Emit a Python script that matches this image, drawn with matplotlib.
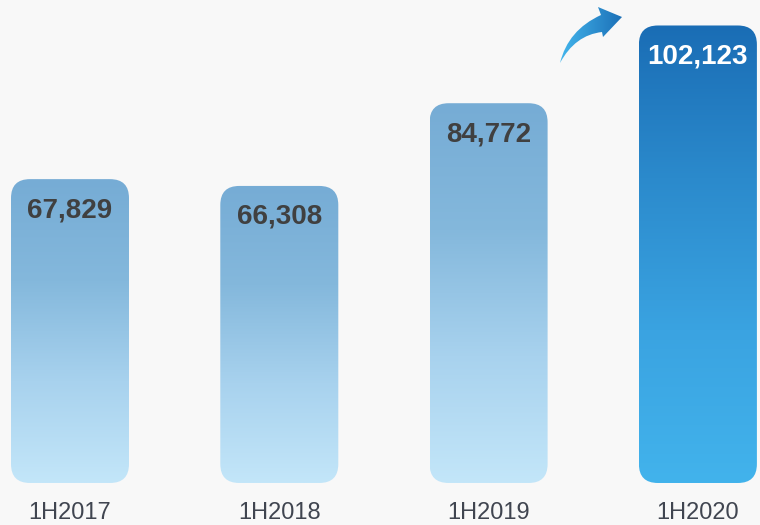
import numpy as np
import matplotlib.pyplot as plt
from matplotlib.patches import FancyBboxPatch, PathPatch
from matplotlib.path import Path
from matplotlib.colors import LinearSegmentedColormap
import matplotlib.transforms as mtransforms

plt.rcParams['font.family'] = ['Liberation Sans', 'DejaVu Sans']

# data
categories = ['1H2017', '1H2018', '1H2019', '1H2020']
values = [67829, 66308, 84772, 102123]
value_labels = ['67,829', '66,308', '84,772', '102,123']

BG = '#f8f8f8'
light_cmap = LinearSegmentedColormap.from_list('light', ['#c3e6f9', '#a8d2ee', '#84b8dc', '#76acd5'])
dark_cmap = LinearSegmentedColormap.from_list('dark', ['#42b3ec', '#3aa3e1', '#2b8acc', '#1a6db5'])

fig = plt.figure(figsize=(7.6, 5.25), dpi=100, facecolor=BG)
ax = fig.add_axes([0, 42 / 525, 1, 483 / 525])
ax.set_facecolor(BG)

px_x = 209.3     # pixels per category step
px_y = 0.00448   # pixels per unit value
ax.set_xlim(-70 / px_x, (760 - 70) / px_x)
ax.set_ylim(0, 483 / px_y)
ax.axis('off')

width = 118 / px_x
radius = 19 / px_x
aspect = (19 / px_y) / radius

x = np.arange(len(categories))
bars = ax.bar(x, values, width=width, color='none', edgecolor='none')

grad = np.linspace(0, 1, 256).reshape(-1, 1)
for i, b in enumerate(bars):
    x0, y0 = b.get_x(), b.get_y()
    w, h = b.get_width(), b.get_height()
    shape = FancyBboxPatch((x0, y0), w, h,
                           boxstyle=f'round,pad=0,rounding_size={radius}',
                           mutation_aspect=aspect,
                           facecolor='none', edgecolor='none')
    ax.add_patch(shape)
    cmap = dark_cmap if i == 3 else light_cmap
    im = ax.imshow(grad, cmap=cmap, aspect='auto', origin='lower',
                   extent=[x0, x0 + w, y0, y0 + h], interpolation='bilinear')
    im.set_clip_path(shape)

    color = 'white' if i == 3 else '#404040'
    ax.annotate(value_labels[i], (x[i], values[i]), xytext=(0, -38 * 0.72),
                textcoords='offset points', ha='center', va='baseline',
                fontsize=20, fontweight='bold', color=color)

# category labels
trans = mtransforms.blended_transform_factory(ax.transData, fig.transFigure)
for i, c in enumerate(categories):
    ax.text(x[i], 6 / 525, c, transform=trans, ha='center', va='baseline',
            fontsize=17, color='#404550', clip_on=False)


# growth arrow (drawn in pixel space, converted to data coords)
def to_data(px, py):
    return ((px - 70) / px_x, (483 - py) / px_y)


arrow_px = [(560, 63), (568, 30), (601, 15), (598, 7), (622, 17),
            (603, 37), (602, 32), (575, 35), (560, 63), (560, 63)]
codes = [Path.MOVETO, Path.CURVE3, Path.CURVE3, Path.LINETO, Path.LINETO,
         Path.LINETO, Path.LINETO, Path.CURVE3, Path.CURVE3, Path.CLOSEPOLY]
arrow = PathPatch(Path([to_data(*p) for p in arrow_px], codes),
                  facecolor='none', edgecolor='none')
ax.add_patch(arrow)
ax0, ay0 = to_data(558, 65)
ax1, ay1 = to_data(624, 5)
agrad = np.linspace(0, 1, 256).reshape(1, -1)
aim = ax.imshow(agrad, cmap=LinearSegmentedColormap.from_list('arr', ['#45b8ee', '#1a6db5']),
                aspect='auto', extent=[ax0, ax1, ay0, ay1], interpolation='bilinear')
aim.set_clip_path(arrow)

ax.set_xlim(-70 / px_x, (760 - 70) / px_x)
ax.set_ylim(0, 483 / px_y)

fig.savefig('out.png', dpi=100, facecolor=BG)
